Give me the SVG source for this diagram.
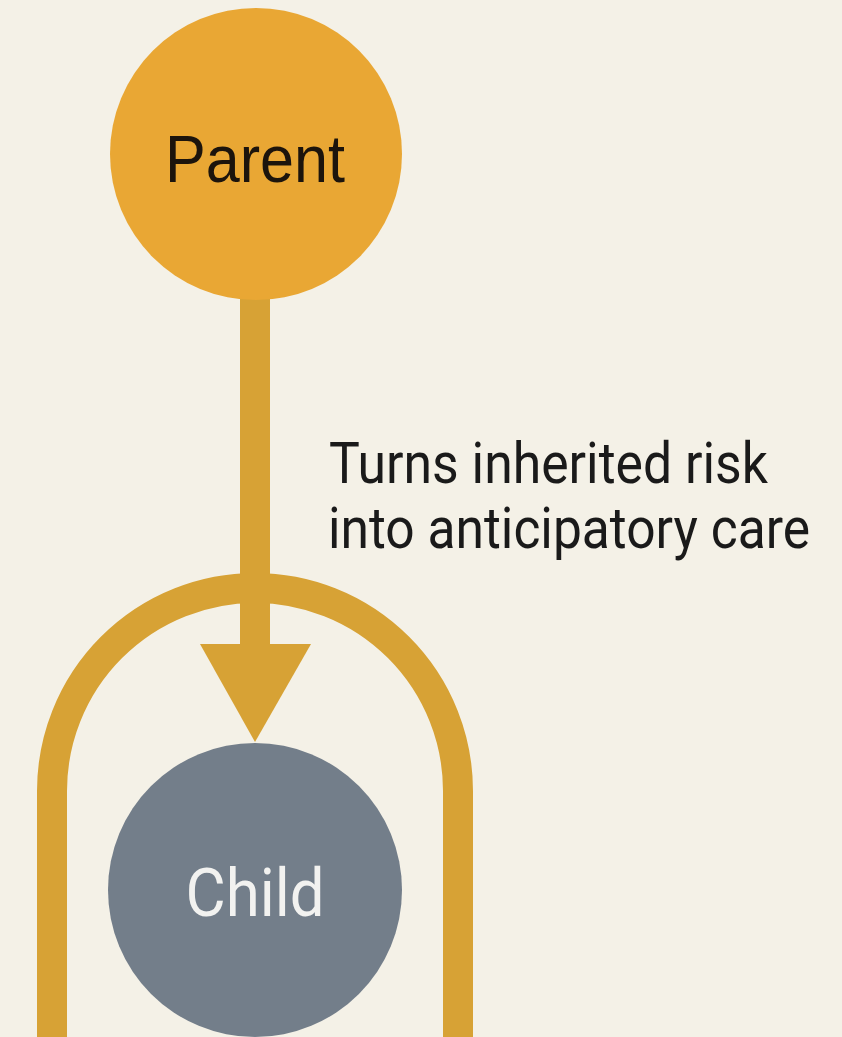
<svg xmlns="http://www.w3.org/2000/svg" width="842" height="1037" viewBox="0 0 842 1037">
  <style>
    .node-label { text-anchor: middle; }
    .edge { fill: none; stroke: #d7a235; stroke-width: 30; }
    .note { font-family: Roboto, "Liberation Sans", sans-serif; font-size: 52px; fill: #1a1a1a; }
  </style>
  <rect width="842" height="1037" fill="#f4f1e7"/>

  <g id="connectors">
    <!-- protective arch around the child -->
    <path class="edge" d="M52,1037 L52,791 A203,203 0 0 1 458,791 L458,1037"/>
    <!-- parent to child arrow -->
    <line class="edge" x1="255" y1="298" x2="255" y2="660"/>
    <polygon points="200,644 311,644 255,742" fill="#d7a235"/>
  </g>

  <g id="parent">
    <circle cx="256" cy="154" r="146" fill="#e9a734"/>
    <text class="node-label" x="255" y="182" font-family="'Liberation Sans', Arial, sans-serif" font-size="66" textLength="180" lengthAdjust="spacingAndGlyphs" fill="#1c140c">Parent</text>
  </g>

  <g id="child">
    <circle cx="255" cy="890" r="147" fill="#737e8a"/>
    <text class="node-label" x="255" y="916" font-family="Roboto, 'Liberation Sans', sans-serif" font-size="66" textLength="139" lengthAdjust="spacingAndGlyphs" fill="#f2f2f0">Child</text>
  </g>

  <!-- edge label, set slightly tall -->
  <g id="edge-label" transform="matrix(1,0,0,1.12,0,0)">
    <text class="note" x="329" y="431.3" textLength="439" lengthAdjust="spacingAndGlyphs">Turns inherited risk</text>
    <text class="note" x="328" y="489.3" textLength="482" lengthAdjust="spacingAndGlyphs">into anticipatory care</text>
  </g>
</svg>
